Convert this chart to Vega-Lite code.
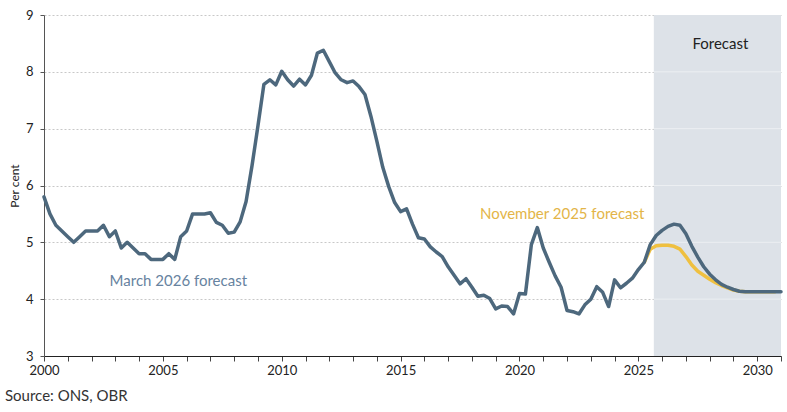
{
  "$schema": "https://vega.github.io/schema/vega-lite/v6.json",
  "width": 737,
  "height": 341,
  "autosize": {"type": "none"},
  "padding": {"left": 44, "top": 15, "right": 6, "bottom": 56},
  "config": {"font": "Lato", "view": {"stroke": null}},
  "title": {"text": "Source: ONS, OBR", "orient": "bottom", "anchor": "start", "frame": "group", "dx": -39, "offset": 12, "fontSize": 15, "fontWeight": "normal", "color": "#333333"},
  "datasets": {
    "shade": [{"year": 2025.65, "year2": 2031, "value": 3, "value2": 9}],
    "shadegrid": [
      {"year": 2025.65, "year2": 2031, "value": 4}, {"year": 2025.65, "year2": 2031, "value": 5},
      {"year": 2025.65, "year2": 2031, "value": 6}, {"year": 2025.65, "year2": 2031, "value": 7},
      {"year": 2025.65, "year2": 2031, "value": 8}
    ],
    "march": [
      {"year": 2000.0, "value": 5.8}, {"year": 2000.25, "value": 5.5}, {"year": 2000.5, "value": 5.3}, {"year": 2000.75, "value": 5.2},
      {"year": 2001.0, "value": 5.1}, {"year": 2001.25, "value": 5.0}, {"year": 2001.5, "value": 5.1}, {"year": 2001.75, "value": 5.2},
      {"year": 2002.0, "value": 5.2}, {"year": 2002.25, "value": 5.2}, {"year": 2002.5, "value": 5.3}, {"year": 2002.75, "value": 5.1},
      {"year": 2003.0, "value": 5.2}, {"year": 2003.25, "value": 4.9}, {"year": 2003.5, "value": 5.0}, {"year": 2003.75, "value": 4.9},
      {"year": 2004.0, "value": 4.8}, {"year": 2004.25, "value": 4.8}, {"year": 2004.5, "value": 4.7}, {"year": 2004.75, "value": 4.7},
      {"year": 2005.0, "value": 4.7}, {"year": 2005.25, "value": 4.8}, {"year": 2005.5, "value": 4.7}, {"year": 2005.75, "value": 5.1},
      {"year": 2006.0, "value": 5.2}, {"year": 2006.25, "value": 5.5}, {"year": 2006.5, "value": 5.5}, {"year": 2006.75, "value": 5.5},
      {"year": 2007.0, "value": 5.52}, {"year": 2007.25, "value": 5.35}, {"year": 2007.5, "value": 5.3}, {"year": 2007.75, "value": 5.16},
      {"year": 2008.0, "value": 5.18}, {"year": 2008.25, "value": 5.36}, {"year": 2008.5, "value": 5.72}, {"year": 2008.75, "value": 6.35},
      {"year": 2009.0, "value": 7.05}, {"year": 2009.25, "value": 7.78}, {"year": 2009.5, "value": 7.86}, {"year": 2009.75, "value": 7.77},
      {"year": 2010.0, "value": 8.01}, {"year": 2010.25, "value": 7.86}, {"year": 2010.5, "value": 7.75}, {"year": 2010.75, "value": 7.87},
      {"year": 2011.0, "value": 7.77}, {"year": 2011.25, "value": 7.94}, {"year": 2011.5, "value": 8.33}, {"year": 2011.75, "value": 8.38},
      {"year": 2012.0, "value": 8.18}, {"year": 2012.25, "value": 7.98}, {"year": 2012.5, "value": 7.86}, {"year": 2012.75, "value": 7.81},
      {"year": 2013.0, "value": 7.84}, {"year": 2013.25, "value": 7.74}, {"year": 2013.5, "value": 7.6}, {"year": 2013.75, "value": 7.22},
      {"year": 2014.0, "value": 6.78}, {"year": 2014.25, "value": 6.32}, {"year": 2014.5, "value": 5.98}, {"year": 2014.75, "value": 5.7},
      {"year": 2015.0, "value": 5.54}, {"year": 2015.25, "value": 5.59}, {"year": 2015.5, "value": 5.32}, {"year": 2015.75, "value": 5.08},
      {"year": 2016.0, "value": 5.06}, {"year": 2016.25, "value": 4.92}, {"year": 2016.5, "value": 4.83}, {"year": 2016.75, "value": 4.75},
      {"year": 2017.0, "value": 4.57}, {"year": 2017.25, "value": 4.42}, {"year": 2017.5, "value": 4.27}, {"year": 2017.75, "value": 4.36},
      {"year": 2018.0, "value": 4.21}, {"year": 2018.25, "value": 4.05}, {"year": 2018.5, "value": 4.07}, {"year": 2018.75, "value": 4.01},
      {"year": 2019.0, "value": 3.83}, {"year": 2019.25, "value": 3.88}, {"year": 2019.5, "value": 3.87}, {"year": 2019.75, "value": 3.74},
      {"year": 2020.0, "value": 4.1}, {"year": 2020.25, "value": 4.09}, {"year": 2020.5, "value": 4.96}, {"year": 2020.75, "value": 5.26},
      {"year": 2021.0, "value": 4.9}, {"year": 2021.25, "value": 4.65}, {"year": 2021.5, "value": 4.41}, {"year": 2021.75, "value": 4.21},
      {"year": 2022.0, "value": 3.8}, {"year": 2022.25, "value": 3.78}, {"year": 2022.5, "value": 3.74}, {"year": 2022.75, "value": 3.9},
      {"year": 2023.0, "value": 4.0}, {"year": 2023.25, "value": 4.22}, {"year": 2023.5, "value": 4.12}, {"year": 2023.75, "value": 3.87},
      {"year": 2024.0, "value": 4.34}, {"year": 2024.25, "value": 4.2}, {"year": 2024.5, "value": 4.28}, {"year": 2024.75, "value": 4.37},
      {"year": 2025.0, "value": 4.52}, {"year": 2025.25, "value": 4.65}, {"year": 2025.5, "value": 4.96}, {"year": 2025.75, "value": 5.12},
      {"year": 2026.0, "value": 5.21}, {"year": 2026.25, "value": 5.28}, {"year": 2026.5, "value": 5.32}, {"year": 2026.75, "value": 5.3},
      {"year": 2027.0, "value": 5.15}, {"year": 2027.25, "value": 4.93}, {"year": 2027.5, "value": 4.74}, {"year": 2027.75, "value": 4.57},
      {"year": 2028.0, "value": 4.44}, {"year": 2028.25, "value": 4.34}, {"year": 2028.5, "value": 4.26}, {"year": 2028.75, "value": 4.21},
      {"year": 2029.0, "value": 4.17}, {"year": 2029.25, "value": 4.14}, {"year": 2029.5, "value": 4.13}, {"year": 2029.75, "value": 4.13},
      {"year": 2030.0, "value": 4.13}, {"year": 2030.25, "value": 4.13}, {"year": 2030.5, "value": 4.13}, {"year": 2030.75, "value": 4.13},
      {"year": 2031.0, "value": 4.13}
    ],
    "nov": [
      {"year": 2025.25, "value": 4.65}, {"year": 2025.5, "value": 4.88}, {"year": 2025.75, "value": 4.94},
      {"year": 2026.0, "value": 4.95}, {"year": 2026.25, "value": 4.95}, {"year": 2026.5, "value": 4.93}, {"year": 2026.75, "value": 4.88},
      {"year": 2027.0, "value": 4.75}, {"year": 2027.25, "value": 4.6}, {"year": 2027.5, "value": 4.49}, {"year": 2027.75, "value": 4.42},
      {"year": 2028.0, "value": 4.35}, {"year": 2028.25, "value": 4.29}, {"year": 2028.5, "value": 4.24}, {"year": 2028.75, "value": 4.2},
      {"year": 2029.0, "value": 4.16}, {"year": 2029.25, "value": 4.14}, {"year": 2029.5, "value": 4.13}, {"year": 2029.75, "value": 4.13},
      {"year": 2030.0, "value": 4.13}, {"year": 2030.25, "value": 4.13}, {"year": 2030.5, "value": 4.13}, {"year": 2030.75, "value": 4.13}
    ],
    "labels": [
      {"year": 2005.65, "value": 4.32, "label": "March 2026 forecast", "kind": "march"},
      {"year": 2021.8, "value": 5.5, "label": "November 2025 forecast", "kind": "nov"},
      {"year": 2028.45, "value": 8.49, "label": "Forecast", "kind": "fc"}
    ]
  },
  "encoding": {
    "x": {
      "field": "year", "type": "quantitative",
      "scale": {"domain": [2000, 2031], "nice": false, "zero": false},
      "axis": {
        "title": null, "grid": false,
        "values": [2000,2001,2002,2003,2004,2005,2006,2007,2008,2009,2010,2011,2012,2013,2014,2015,2016,2017,2018,2019,2020,2021,2022,2023,2024,2025,2026,2027,2028,2029,2030,2031],
        "labelExpr": "datum.value % 5 === 0 ? format(datum.value, 'd') : ''",
        "labelOverlap": false, "labelFlush": false,
        "labelFontSize": 13, "labelColor": "#222222", "labelPadding": 3,
        "domainColor": "#222222", "tickColor": "#444444", "tickSize": 5
      }
    },
    "y": {
      "field": "value", "type": "quantitative",
      "scale": {"domain": [3, 9], "nice": false, "zero": false},
      "axis": {
        "title": "Per cent", "titleFontSize": 12, "titleFontWeight": "normal", "titleColor": "#222222", "titlePadding": 4,
        "values": [3,4,5,6,7,8,9],
        "grid": true, "gridDash": [2, 2], "gridColor": "#c8c8c8",
        "labelFontSize": 13, "labelColor": "#222222", "labelPadding": 7,
        "domainColor": "#555555", "tickColor": "#555555", "tickSize": 4
      }
    }
  },
  "layer": [
    {
      "data": {"name": "shade"},
      "mark": {"type": "rect", "color": "#dde2e8"},
      "encoding": {"x2": {"field": "year2"}, "y2": {"field": "value2"}}
    },
    {
      "data": {"name": "shadegrid"},
      "mark": {"type": "rule", "color": "#eceff2", "strokeWidth": 1},
      "encoding": {"x2": {"field": "year2"}}
    },
    {
      "data": {"name": "nov"},
      "mark": {"type": "line", "color": "#efc040", "strokeWidth": 3.5, "strokeJoin": "round", "strokeCap": "round"},
      "encoding": {}
    },
    {
      "data": {"name": "march"},
      "mark": {"type": "line", "color": "#4d687d", "strokeWidth": 3.5, "strokeJoin": "round", "strokeCap": "round"},
      "encoding": {}
    },
    {
      "data": {"name": "labels"},
      "mark": {"type": "text", "fontSize": 15, "align": "center", "baseline": "middle"},
      "encoding": {
        "text": {"field": "label"},
        "color": {"field": "kind", "type": "nominal", "scale": {"domain": ["march", "nov", "fc"], "range": ["#6783a0", "#e3b548", "#222222"]}, "legend": null}
      }
    }
  ]
}
